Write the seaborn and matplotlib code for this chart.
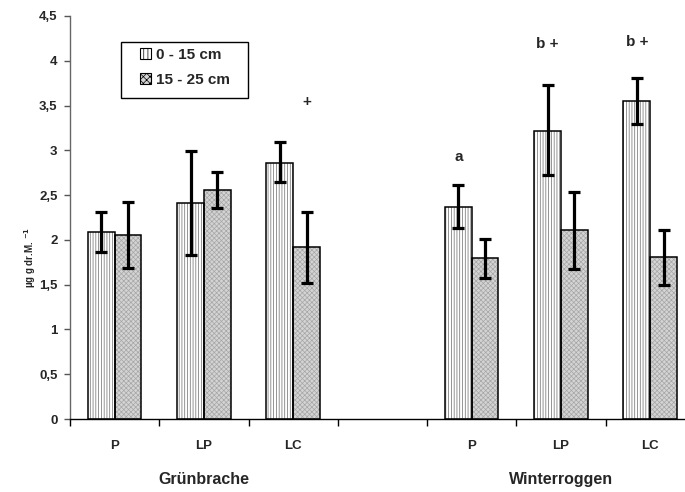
import matplotlib
matplotlib.use('Agg')
import matplotlib.pyplot as plt
import matplotlib.transforms as mtransforms
from matplotlib.patches import Patch, Rectangle
import seaborn as sns
import pandas as pd
import numpy as np

# ---------------- data ----------------
categories = ['G_P', 'G_LP', 'G_LC', 'gap', 'W_P', 'W_LP', 'W_LC']
tick_labels = ['P', 'LP', 'LC', '', 'P', 'LP', 'LC']
data_cats = ['G_P', 'G_LP', 'G_LC', 'W_P', 'W_LP', 'W_LC']
series = ['0 - 15 cm', '15 - 25 cm']

val_0_15 = [2.09, 2.41, 2.86, 2.37, 3.22, 3.55]
lo_0_15 = [1.87, 1.83, 2.65, 2.13, 2.72, 3.29]
hi_0_15 = [2.31, 2.99, 3.09, 2.61, 3.73, 3.81]

val_15_25 = [2.05, 2.56, 1.92, 1.80, 2.11, 1.81]
lo_15_25 = [1.69, 2.36, 1.52, 1.58, 1.68, 1.50]
hi_15_25 = [2.42, 2.76, 2.31, 2.01, 2.54, 2.11]

groups = ['Grünbrache', 'Winterroggen']
group_center_cat = ['G_LP', 'W_LP']

ann_text = ['+', 'a', 'b +', 'b +']
ann_cat = ['G_LC', 'W_P', 'W_LP', 'W_LC']
ann_series = ['15 - 25 cm', '0 - 15 cm', '0 - 15 cm', '0 - 15 cm']
ann_y = [3.54, 2.92, 4.19, 4.21]

y_ticks = [0, 0.5, 1, 1.5, 2, 2.5, 3, 3.5, 4, 4.5]
y_tick_labels = ['0', '0,5', '1', '1,5', '2', '2,5', '3', '3,5', '4', '4,5']

# ---------------- style ----------------
sns.set_style('white')
plt.rcParams['font.family'] = ['Liberation Sans', 'DejaVu Sans']
plt.rcParams['font.weight'] = 'bold'
plt.rcParams['hatch.linewidth'] = 0.5

df = pd.DataFrame({
    'cat': data_cats * 2,
    'depth': [series[0]] * len(data_cats) + [series[1]] * len(data_cats),
    'val': val_0_15 + val_15_25,
    'lo': lo_0_15 + lo_15_25,
    'hi': hi_0_15 + hi_15_25,
})

fig = plt.figure(figsize=(6.85, 4.92), dpi=100)
ax = fig.add_axes([70 / 685, 1 - 419 / 492, 615 / 685, (419 - 16) / 492])

sns.barplot(data=df, x='cat', y='val', hue='depth', order=categories,
            hue_order=series, width=0.6, errorbar=None, ax=ax,
            palette=['white', '#d4d4d4'], legend=False, saturation=1)

hatches = ['||||||', 'xxxxxxx']
hatch_colors = ['#6a6a6a', '#a6a6a6']
centers = {}
bars = [b for b in list(ax.patches) if b.get_height() > 0]
for bar in bars:
    cx = bar.get_x() + bar.get_width() / 2
    ci = int(round(cx))
    si = 0 if cx < ci else 1
    cat = categories[ci]
    row = df[(df['cat'] == cat) & (df['depth'] == series[si])].iloc[0]
    bar.set_hatch(hatches[si])
    bar.set_edgecolor(hatch_colors[si])
    bar.set_linewidth(0)
    ax.add_patch(Rectangle(bar.get_xy(), bar.get_width(), bar.get_height(),
                           fill=False, edgecolor='black', linewidth=1.1, zorder=3))
    centers[(series[si], cat)] = cx
    ax.errorbar(cx, row['val'],
                yerr=[[row['val'] - row['lo']], [row['hi'] - row['val']]],
                fmt='none', ecolor='black', elinewidth=2.3, capsize=4,
                capthick=2.3, zorder=4)

# annotations
for t, c, s, yv in zip(ann_text, ann_cat, ann_series, ann_y):
    ax.text(centers[(s, c)], yv, t, ha='center', va='center',
            fontsize=11, fontweight='bold')

# axes
ax.set_yticks(y_ticks)
ax.set_yticklabels(y_tick_labels, fontsize=9.5, fontweight='bold')
ax.set_xticks(np.arange(-0.5, 6.6, 1.0))
ax.set_xticklabels([])
ax.set_xticks(np.arange(len(categories)), minor=True)
ax.set_xticklabels(tick_labels, minor=True, fontsize=9.5, fontweight='bold')
ax.set_xlim(-0.5, 6.39)
ax.set_ylim(0, 4.5)
ax.tick_params(axis='x', which='major', direction='out', length=5, width=1,
               color='black', bottom=True)
ax.tick_params(axis='x', which='minor', length=0, pad=15)
ax.tick_params(axis='y', direction='out', length=4, width=1, color='#555555',
               left=True, pad=5)
ax.set_xlabel('')
ax.set_ylabel('')
for sp in ['top', 'right']:
    ax.spines[sp].set_visible(False)
ax.spines['left'].set_color('#666666')
ax.spines['left'].set_linewidth(1)
ax.spines['bottom'].set_color('black')
ax.spines['bottom'].set_linewidth(1)

fig.text(30 / 685, 1 - 258 / 492, r'µg g dr.M. $\mathbf{^{-1}}$', rotation=90,
         ha='center', va='center', fontsize=7, fontweight='bold')

trans = mtransforms.blended_transform_factory(ax.transData, ax.transAxes)
for g, c in zip(groups, group_center_cat):
    ax.text(categories.index(c), -0.149, g, transform=trans, ha='center',
            va='center', fontsize=11.5, fontweight='bold')

# legend (frame drawn separately to match the wide box of the reference)
handles = [Patch(facecolor='white', edgecolor='black', hatch='||||', linewidth=0.8),
           Patch(facecolor='#d4d4d4', edgecolor='black', hatch='xxxxx', linewidth=0.8)]
leg = ax.legend(handles, series, loc='upper left',
                bbox_to_anchor=(140 / 685, 1 - 48 / 492),
                bbox_transform=fig.transFigure,
                frameon=False, prop={'size': 11, 'weight': 'bold'},
                handlelength=0.7, handleheight=0.7, handletextpad=0.35,
                borderpad=0, labelspacing=0.72, borderaxespad=0)
fig.patches.append(Rectangle((121 / 685, 1 - 98 / 492), 127 / 685, 56 / 492,
                             transform=fig.transFigure, fill=False,
                             edgecolor='black', linewidth=1, zorder=5))

fig.savefig('out.png', dpi=100)
